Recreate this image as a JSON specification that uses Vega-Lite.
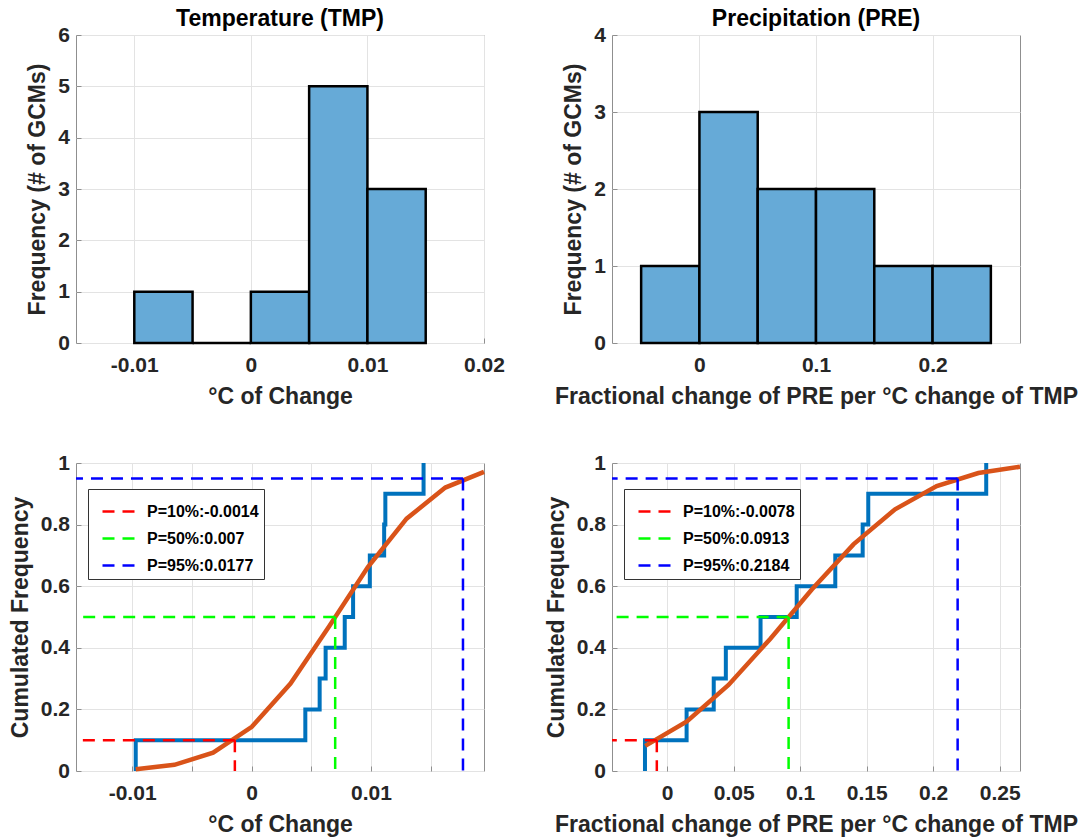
{
  "$schema": "https://vega.github.io/schema/vega-lite/v6.json",
  "background": "white",
  "padding": {"left": 8, "top": 7, "right": 5, "bottom": 2},
  "datasets": {
    "tmp_hist": [
      {"lo": -0.01, "hi": -0.005, "n": 1},
      {"lo": -0.005, "hi": 0, "n": 0},
      {"lo": 0, "hi": 0.005, "n": 1},
      {"lo": 0.005, "hi": 0.01, "n": 5},
      {"lo": 0.01, "hi": 0.015, "n": 3}
    ],
    "pre_hist": [
      {"lo": -0.05, "hi": 0, "n": 1},
      {"lo": 0, "hi": 0.05, "n": 3},
      {"lo": 0.05, "hi": 0.1, "n": 2},
      {"lo": 0.1, "hi": 0.15, "n": 2},
      {"lo": 0.15, "hi": 0.2, "n": 1},
      {"lo": 0.2, "hi": 0.25, "n": 1}
    ],
    "tmp_ecdf": [
      {"i": 0, "x": -0.0097, "F": 0},
      {"i": 1, "x": -0.0097, "F": 0.1},
      {"i": 2, "x": 0.0045, "F": 0.2},
      {"i": 3, "x": 0.0057, "F": 0.3},
      {"i": 4, "x": 0.0062, "F": 0.4},
      {"i": 5, "x": 0.0078, "F": 0.5},
      {"i": 6, "x": 0.0085, "F": 0.6},
      {"i": 7, "x": 0.0099, "F": 0.7},
      {"i": 8, "x": 0.0111, "F": 0.8},
      {"i": 9, "x": 0.0112, "F": 0.9},
      {"i": 10, "x": 0.0144, "F": 1.0}
    ],
    "pre_ecdf": [
      {"i": 0, "x": -0.0167, "F": 0},
      {"i": 1, "x": -0.0167, "F": 0.1},
      {"i": 2, "x": 0.0146, "F": 0.2},
      {"i": 3, "x": 0.035, "F": 0.3},
      {"i": 4, "x": 0.0441, "F": 0.4},
      {"i": 5, "x": 0.0702, "F": 0.5},
      {"i": 6, "x": 0.0974, "F": 0.6},
      {"i": 7, "x": 0.1264, "F": 0.7},
      {"i": 8, "x": 0.147, "F": 0.8},
      {"i": 9, "x": 0.1512, "F": 0.9},
      {"i": 10, "x": 0.2399, "F": 1.0}
    ],
    "tmp_fit": [
      {"x": -0.0097, "F": 0.0054},
      {"x": -0.00646, "F": 0.02},
      {"x": -0.00322, "F": 0.0595},
      {"x": 0.00002, "F": 0.1434},
      {"x": 0.00326, "F": 0.2841},
      {"x": 0.0065, "F": 0.4696},
      {"x": 0.00974, "F": 0.6621},
      {"x": 0.01298, "F": 0.8192},
      {"x": 0.01622, "F": 0.9203},
      {"x": 0.01946, "F": 0.9714}
    ],
    "pre_fit": [
      {"x": -0.0165, "F": 0.0817},
      {"x": 0.01481, "F": 0.1613},
      {"x": 0.04612, "F": 0.2795},
      {"x": 0.07743, "F": 0.4288},
      {"x": 0.10874, "F": 0.5892},
      {"x": 0.14006, "F": 0.7358},
      {"x": 0.17137, "F": 0.8498},
      {"x": 0.20268, "F": 0.9251},
      {"x": 0.23399, "F": 0.9675},
      {"x": 0.2653, "F": 0.9878}
    ],
    "tmp_pct": [
      {"label": "P=10%:-0.0014", "p": 0.1, "q": -0.0014},
      {"label": "P=50%:0.007", "p": 0.5, "q": 0.007},
      {"label": "P=95%:0.0177", "p": 0.95, "q": 0.0177}
    ],
    "pre_pct": [
      {"label": "P=10%:-0.0078", "p": 0.1, "q": -0.0078},
      {"label": "P=50%:0.0913", "p": 0.5, "q": 0.0913},
      {"label": "P=95%:0.2184", "p": 0.95, "q": 0.2184}
    ]
  },
  "config": {
    "font": "Liberation Sans",
    "view": {"stroke": "#8f8f8f", "strokeWidth": 1},
    "axis": {
      "domain": false,
      "grid": true,
      "gridColor": "#e3e3e3",
      "gridWidth": 1,
      "tickColor": "#8f8f8f",
      "tickSize": -5,
      "tickWidth": 1,
      "labelFont": "Liberation Sans",
      "labelFontSize": 21,
      "labelFontWeight": "bold",
      "labelColor": "#262626",
      "labelFlush": false,
      "labelOverlap": false,
      "titleFont": "Liberation Sans",
      "titleFontSize": 23,
      "titleFontWeight": "bold",
      "titleColor": "#262626"
    },
    "axisX": {"labelPadding": 16, "titlePadding": 10},
    "axisY": {"labelPadding": 11.5, "titlePadding": 8},
    "title": {"font": "Liberation Sans", "fontSize": 23, "fontWeight": "bold", "color": "#000000", "offset": -7, "baseline": "bottom", "frame": "group"},
    "legend": {
      "orient": "none",
      "legendX": 12,
      "legendY": 26,
      "symbolType": "stroke",
      "symbolSize": 1024,
      "symbolStrokeWidth": 2.5,
      "symbolDash": [12, 8],
      "symbolOffset": 8,
      "labelFont": "Liberation Sans",
      "labelFontSize": 16,
      "labelFontWeight": "bold",
      "labelColor": "#000000",
      "labelOffset": 11,
      "padding": 5,
      "rowPadding": 1,
      "strokeColor": "#333333",
      "fillColor": "#ffffff",
      "cornerRadius": 0
    }
  },
  "columns": 2,
  "spacing": {"row": 120, "column": 128},
  "bounds": "flush",
  "resolve": {"scale": {"color": "independent"}, "legend": {"color": "independent"}},
  "concat": [
    {
      "width": 408,
      "height": 308,
      "title": "Temperature (TMP)",
      "data": {"name": "tmp_hist"},
      "mark": {"type": "bar", "fill": "#66aad7", "stroke": "#000000", "strokeWidth": 2.5},
      "encoding": {
        "x": {"field": "lo", "type": "quantitative",
          "scale": {"domain": [-0.015, 0.02], "nice": false, "zero": false},
          "axis": {"values": [-0.01, 0, 0.01, 0.02], "labelExpr": "'' + datum.value", "title": "°C of Change"}},
        "x2": {"field": "hi"},
        "y": {"field": "n", "type": "quantitative",
          "scale": {"domain": [0, 6], "nice": false},
          "axis": {"values": [0, 1, 2, 3, 4, 5, 6], "labelExpr": "'' + datum.value", "title": "Frequency (# of GCMs)"}},
        "y2": {"datum": 0}
      }
    },
    {
      "width": 408,
      "height": 308,
      "title": "Precipitation (PRE)",
      "data": {"name": "pre_hist"},
      "mark": {"type": "bar", "fill": "#66aad7", "stroke": "#000000", "strokeWidth": 2.5},
      "encoding": {
        "x": {"field": "lo", "type": "quantitative",
          "scale": {"domain": [-0.075, 0.275], "nice": false, "zero": false},
          "axis": {"values": [0, 0.1, 0.2], "labelExpr": "'' + datum.value", "title": "Fractional change of PRE per °C change of TMP"}},
        "x2": {"field": "hi"},
        "y": {"field": "n", "type": "quantitative",
          "scale": {"domain": [0, 4], "nice": false},
          "axis": {"values": [0, 1, 2, 3, 4], "labelExpr": "'' + datum.value", "title": "Frequency (# of GCMs)"}},
        "y2": {"datum": 0}
      }
    },
    {
      "width": 408,
      "height": 308,
      "layer": [
        {
          "data": {"name": "tmp_ecdf"},
          "mark": {"type": "line", "interpolate": "step-after", "color": "#0072bd", "strokeWidth": 4},
          "encoding": {
            "x": {"field": "x", "type": "quantitative",
              "scale": {"domain": [-0.0147, 0.01946], "nice": false, "zero": false},
              "axis": {"values": [-0.01, -0.005, 0, 0.005, 0.01, 0.015],
                "labelExpr": "datum.value == -0.01 || datum.value == 0 || datum.value == 0.01 ? '' + datum.value : ''",
                "title": "°C of Change"}},
            "y": {"field": "F", "type": "quantitative",
              "scale": {"domain": [0, 1], "nice": false},
              "axis": {"values": [0, 0.2, 0.4, 0.6, 0.8, 1], "labelExpr": "'' + datum.value", "title": "Cumulated Frequency"}},
            "order": {"field": "i", "type": "quantitative"}
          }
        },
        {
          "data": {"name": "tmp_fit"},
          "mark": {"type": "line", "color": "#d95319", "strokeWidth": 4.5},
          "encoding": {
            "x": {"field": "x", "type": "quantitative"},
            "y": {"field": "F", "type": "quantitative"}
          }
        },
        {
          "data": {"name": "tmp_pct"},
          "mark": {"type": "rule", "strokeWidth": 2.5, "strokeDash": [12, 8]},
          "encoding": {
            "x": {"field": "q", "type": "quantitative"},
            "y": {"field": "p", "type": "quantitative"},
            "y2": {"datum": 0},
            "color": {"field": "label", "type": "nominal",
              "scale": {"domain": ["P=10%:-0.0014", "P=50%:0.007", "P=95%:0.0177"], "range": ["#ff0000", "#00ff00", "#0000ff"]},
              "legend": {"title": null, "labelExpr": "datum.label + '\u00a0\u00a0'"}}
          }
        },
        {
          "data": {"name": "tmp_pct"},
          "mark": {"type": "rule", "strokeWidth": 2.5, "strokeDash": [12, 8]},
          "encoding": {
            "x": {"field": "q", "type": "quantitative"},
            "x2": {"datum": -0.0147},
            "y": {"field": "p", "type": "quantitative"},
            "color": {"field": "label", "type": "nominal", "legend": {"title": null, "labelExpr": "datum.label + '\u00a0\u00a0'"}}
          }
        }
      ]
    },
    {
      "width": 408,
      "height": 308,
      "layer": [
        {
          "data": {"name": "pre_ecdf"},
          "mark": {"type": "line", "interpolate": "step-after", "color": "#0072bd", "strokeWidth": 4},
          "encoding": {
            "x": {"field": "x", "type": "quantitative",
              "scale": {"domain": [-0.0415, 0.2653], "nice": false, "zero": false},
              "axis": {"values": [0, 0.05, 0.1, 0.15, 0.2, 0.25], "labelExpr": "'' + datum.value", "title": "Fractional change of PRE per °C change of TMP"}},
            "y": {"field": "F", "type": "quantitative",
              "scale": {"domain": [0, 1], "nice": false},
              "axis": {"values": [0, 0.2, 0.4, 0.6, 0.8, 1], "labelExpr": "'' + datum.value", "title": "Cumulated Frequency"}},
            "order": {"field": "i", "type": "quantitative"}
          }
        },
        {
          "data": {"name": "pre_fit"},
          "mark": {"type": "line", "color": "#d95319", "strokeWidth": 4.5},
          "encoding": {
            "x": {"field": "x", "type": "quantitative"},
            "y": {"field": "F", "type": "quantitative"}
          }
        },
        {
          "data": {"name": "pre_pct"},
          "mark": {"type": "rule", "strokeWidth": 2.5, "strokeDash": [12, 8]},
          "encoding": {
            "x": {"field": "q", "type": "quantitative"},
            "y": {"field": "p", "type": "quantitative"},
            "y2": {"datum": 0},
            "color": {"field": "label", "type": "nominal",
              "scale": {"domain": ["P=10%:-0.0078", "P=50%:0.0913", "P=95%:0.2184"], "range": ["#ff0000", "#00ff00", "#0000ff"]},
              "legend": {"title": null, "labelExpr": "datum.label + '\u00a0\u00a0'"}}
          }
        },
        {
          "data": {"name": "pre_pct"},
          "mark": {"type": "rule", "strokeWidth": 2.5, "strokeDash": [12, 8]},
          "encoding": {
            "x": {"field": "q", "type": "quantitative"},
            "x2": {"datum": -0.0415},
            "y": {"field": "p", "type": "quantitative"},
            "color": {"field": "label", "type": "nominal", "legend": {"title": null, "labelExpr": "datum.label + '\u00a0\u00a0'"}}
          }
        }
      ]
    }
  ]
}
